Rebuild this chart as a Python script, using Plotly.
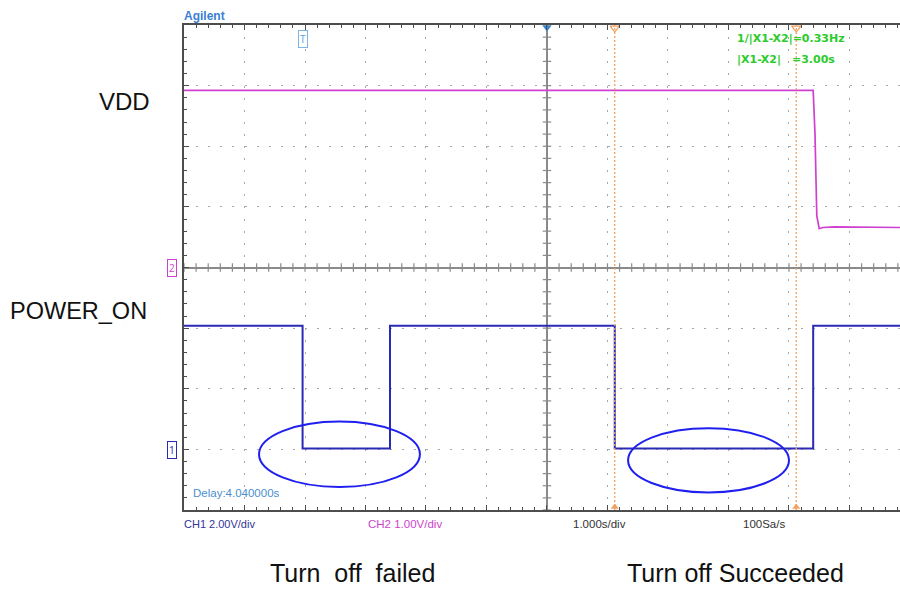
import numpy as np
import plotly.graph_objects as go

# ---- acquisition settings -------------------------------------------------
TIME_PER_DIV = 1.0          # s/div
CH1_V_PER_DIV = 2.0         # POWER_ON
CH2_V_PER_DIV = 1.0         # VDD
CH1_GROUND_DIV = -3.0       # ground reference marker "1"
CH2_GROUND_DIV = 0.0        # ground reference marker "2"

# ---- captured waveforms (time in s relative to screen centre, volts) ------
vdd_t = [-6.0, 4.40, 4.43, 4.46, 4.50, 4.56, 4.75, 5.84]
vdd_v = [2.92, 2.92, 2.20, 0.85, 0.64, 0.66, 0.67, 0.66]

pwr_t = [-6.0, -4.04, -4.04, -2.595, -2.595, 1.12, 1.12, 4.40, 4.40, 5.84]
pwr_v = [4.08, 4.08, 0.03, 0.03, 4.08, 4.08, 0.03, 0.03, 4.08, 4.08]

# cursors X1 / X2 (s)
cursor_x = [1.12, 4.12]
# trigger point (s)
trigger_t = -4.04

# ---- screen geometry -------------------------------------------------------
W, H = 900, 590
L, T, B = 184, 25, 80
X_RANGE = [-6.0, 5.835]
Y_RANGE = [-4.0, 4.0]
plot_w = W - L
plot_h = H - T - B


def px(x):
    return (x - L) / plot_w


def py(y):
    return (H - B - y) / plot_h


vdd_div = [CH2_GROUND_DIV + v / CH2_V_PER_DIV for v in vdd_v]
pwr_div = [CH1_GROUND_DIV + v / CH1_V_PER_DIV for v in pwr_v]

GRID = "#a8a8a8"
CENTRE = "#8a8a8a"
FRAME = "#4d4d4d"
MAGENTA = "#d040d0"
NAVY = "#2a2ab4"
ORANGE = "#f2a060"
SANS = "Liberation Sans, Arial, sans-serif"
WIDE = "DejaVu Sans, Verdana, sans-serif"

fig = go.Figure()

# centre graticule tick marks
minor_x = np.round(np.arange(-6.0, 5.84, 0.2), 3)
minor_y = np.round(np.arange(-4.0, 4.01, 0.2), 3)
fig.add_trace(go.Scatter(
    x=minor_x, y=np.zeros_like(minor_x), mode="markers", hoverinfo="skip",
    marker=dict(symbol="line-ns", size=6, line=dict(color=CENTRE, width=1.2)),
))
fig.add_trace(go.Scatter(
    x=np.zeros_like(minor_y), y=minor_y, mode="markers", hoverinfo="skip",
    marker=dict(symbol="line-ew", size=6, line=dict(color=CENTRE, width=1.2)),
))

# cursors
for cx in cursor_x:
    fig.add_shape(type="line", x0=cx, x1=cx, y0=Y_RANGE[0], y1=Y_RANGE[1],
                  line=dict(color=ORANGE, width=1.3, dash="2px,2px"))
fig.add_trace(go.Scatter(
    x=cursor_x, y=[Y_RANGE[1] - 0.05] * 2, mode="markers", cliponaxis=False,
    hoverinfo="skip",
    marker=dict(symbol="triangle-down-open", size=8, color=ORANGE,
                line=dict(width=1.3)),
))
fig.add_trace(go.Scatter(
    x=cursor_x, y=[Y_RANGE[0] + 0.05] * 2, mode="markers", cliponaxis=False,
    hoverinfo="skip",
    marker=dict(symbol="triangle-up", size=7, color=ORANGE),
))

# waveforms
fig.add_trace(go.Scatter(x=vdd_t, y=vdd_div, mode="lines", name="VDD",
                         line=dict(color=MAGENTA, width=1.7)))
fig.add_trace(go.Scatter(x=pwr_t, y=pwr_div, mode="lines", name="POWER_ON",
                         line=dict(color=NAVY, width=2)))

# trigger position marker on the top edge
fig.add_trace(go.Scatter(
    x=[0.0], y=[Y_RANGE[1] - 0.04], mode="markers", cliponaxis=False,
    hoverinfo="skip",
    marker=dict(symbol="triangle-down", size=8, color="#3a86d0"),
))

# ground reference pointers
fig.add_trace(go.Scatter(
    x=[X_RANGE[0] - 0.06, X_RANGE[0] - 0.06],
    y=[CH2_GROUND_DIV, CH1_GROUND_DIV], mode="markers", cliponaxis=False,
    hoverinfo="skip",
    marker=dict(symbol="triangle-right-open", size=8,
                color=[MAGENTA, NAVY], line=dict(width=1.2)),
))

# highlighted regions
fig.add_shape(type="circle", x0=-4.76, x1=-2.10, y0=-3.62, y1=-2.54,
              line=dict(color="#1f1ff0", width=2))
fig.add_shape(type="circle", x0=1.34, x1=4.00, y0=-3.71, y1=-2.65,
              line=dict(color="#1f1ff0", width=2))

ann = []


def text(x, y, s, size=10, color="#333", xanchor="left", bold=False,
         family=SANS, yanchor="middle", **kw):
    if bold:
        s = "<b>" + s + "</b>"
    ann.append(dict(x=px(x), y=py(y), xref="paper", yref="paper", text=s,
                    showarrow=False, xanchor=xanchor, yanchor=yanchor,
                    font=dict(size=size, color=color, family=family), **kw))


text(182, 16, "Agilent", size=12, color="#3b80d6", bold=True)
text(735, 38, "1/|X1-X2|=0.33Hz", size=11, color="#2bcc2b", bold=True,
     family=WIDE)
text(735, 60, "|X1-X2|", size=11, color="#2bcc2b", bold=True, family=WIDE)
text(790, 60, "=3.00s", size=11, color="#2bcc2b", bold=True, family=WIDE)
text(191, 493, "Delay:4.040000s", size=11.5, color="#4a8fd0")
text(182, 524, "CH1 2.00V/div", size=11, color="#333399")
text(366, 524, "CH2 1.00V/div", size=11.5, color="#cc44cc")
text(571, 524, "1.000s/div", size=11.5, color="#333333")
text(741, 524, "100Sa/s", size=11.5, color="#333333")

text(152, 101, "VDD", size=24, color="#111111", xanchor="right")
text(149, 311, "POWER_ON", size=23.5, color="#111111", xanchor="right")
text(352, 589, "Turn  off  failed", size=25, color="#111111",
     xanchor="center", yanchor="bottom")
text(735, 589, "Turn off Succeeded", size=25, color="#111111",
     xanchor="center", yanchor="bottom")

# trigger time reference and ground labels
ann.append(dict(x=trigger_t, y=py(39), xref="x", yref="paper", text="T",
                showarrow=False, xanchor="center", yanchor="middle",
                font=dict(size=10, color="#5aa0d8"), bordercolor="#7db4e6",
                borderwidth=1, borderpad=1, bgcolor="white"))
ann.append(dict(x=px(177), y=py(268), xref="paper", yref="paper", text="2",
                showarrow=False, xanchor="right", yanchor="middle",
                font=dict(size=10, color=MAGENTA), bordercolor=MAGENTA,
                borderwidth=1, borderpad=1))
ann.append(dict(x=px(177), y=py(450), xref="paper", yref="paper", text="1",
                showarrow=False, xanchor="right", yanchor="middle",
                font=dict(size=10, color=NAVY), bordercolor=NAVY,
                borderwidth=1, borderpad=1))

fig.update_layout(
    width=W, height=H,
    margin=dict(l=L, r=0, t=T, b=B),
    paper_bgcolor="white", plot_bgcolor="white",
    showlegend=False,
    annotations=ann,
    xaxis=dict(
        range=X_RANGE, tickmode="linear", tick0=0, dtick=TIME_PER_DIV,
        showticklabels=False, ticks="inside", ticklen=5, tickcolor=FRAME,
        showgrid=True, gridcolor=GRID, gridwidth=1, griddash="2px,10.1px",
        zeroline=True, zerolinecolor=CENTRE, zerolinewidth=1.5,
        showline=True, linecolor=FRAME, linewidth=2, mirror="allticks",
        minor=dict(tick0=0, dtick=0.2, ticks="inside", ticklen=3,
                   tickcolor=FRAME, showgrid=False),
        fixedrange=True,
    ),
    yaxis=dict(
        range=Y_RANGE, tickmode="linear", tick0=0, dtick=1,
        showticklabels=False, ticks="inside", ticklen=5, tickcolor=FRAME,
        showgrid=True, gridcolor=GRID, gridwidth=1, griddash="2px,10.1px",
        zeroline=True, zerolinecolor=CENTRE, zerolinewidth=1.5,
        showline=True, linecolor=FRAME, linewidth=2, mirror=False,
        minor=dict(tick0=0, dtick=0.2, ticks="inside", ticklen=3,
                   tickcolor=FRAME, showgrid=False),
        fixedrange=True,
    ),
)

fig.write_html("out.html")
